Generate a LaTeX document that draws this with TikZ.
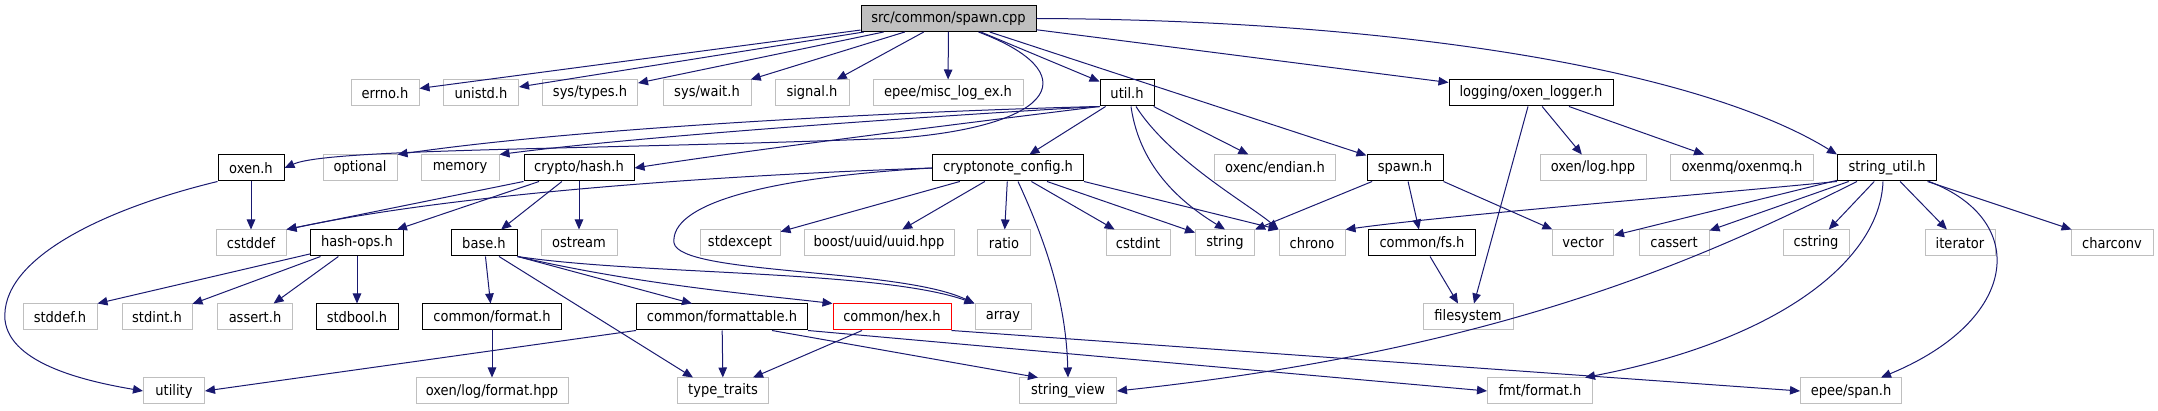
\documentclass[tikz,border=0pt]{standalone}
\usepackage{fontspec}
\setmainfont{DejaVu Sans Condensed}
\usetikzlibrary{arrows.meta}
\definecolor{edgeBlue}{HTML}{191970}
\definecolor{extGrey}{HTML}{BFBFBF}
\definecolor{rootFill}{HTML}{BFBFBF}
\begin{document}
\begin{tikzpicture}[x=1pt,y=-1pt,
  inc/.style={draw=edgeBlue, line width=1pt, -{Triangle[length=10pt,width=8.5pt]}},
  file/.style={draw=black, line width=1pt, minimum height=26pt, inner sep=0pt, font=\fontsize{14.5}{16}\selectfont},
  sys/.style={file, draw=extGrey},
  root/.style={file, fill=rootFill},
  cut/.style={file, draw=red}]
\useasboundingbox (0,0) rectangle (2158,411);
% row 1
\node[root, minimum width=175pt] (spawnCpp) at (948.5,18.5) {src/common/spawn.cpp};
% row 2
\node[sys, minimum width=68pt] (errnoH) at (385,93) {errno.h};
\node[sys, minimum width=75pt] (unistdH) at (481,93) {unistd.h};
\node[sys, minimum width=95pt] (sysTypesH) at (590,93) {sys/types.h};
\node[sys, minimum width=88pt] (sysWaitH) at (707,93) {sys/wait.h};
\node[sys, minimum width=74pt] (signalH) at (812,93) {signal.h};
\node[sys, minimum width=150pt] (miscLogEx) at (948,93) {epee/misc\_log\_ex.h};
\node[file, minimum width=54pt] (utilH) at (1127,93) {util.h};
\node[file, minimum width=164pt] (oxenLogger) at (1531,93) {logging/oxen\_logger.h};
% row 3
\node[file, minimum width=66pt] (oxenH) at (251,168) {oxen.h};
\node[sys, minimum width=74pt] (optional) at (360,168) {optional};
\node[sys, minimum width=78pt] (memory) at (460,168) {memory};
\node[file, minimum width=110pt] (cryptoHash) at (579,168) {crypto/hash.h};
\node[file, minimum width=151pt] (cryptonoteConfig) at (1008,168) {cryptonote\_config.h};
\node[sys, minimum width=121pt] (oxencEndian) at (1275,168) {oxenc/endian.h};
\node[file, minimum width=76pt] (spawnH) at (1405,168) {spawn.h};
\node[sys, minimum width=106pt] (oxenLogHpp) at (1593,168) {oxen/log.hpp};
\node[sys, minimum width=143pt] (oxenmqH) at (1742,168) {oxenmq/oxenmq.h};
\node[file, minimum width=99pt] (stringUtil) at (1887,168) {string\_util.h};
% row 4
\node[sys, minimum width=70pt] (cstddef) at (251,243) {cstddef};
\node[file, minimum width=93pt] (hashOps) at (357,243) {hash-ops.h};
\node[file, minimum width=66pt] (baseH) at (484,243) {base.h};
\node[sys, minimum width=76pt] (ostream) at (579,243) {ostream};
\node[sys, minimum width=80pt] (stdexcept) at (740,243) {stdexcept};
\node[sys, minimum width=150pt] (boostUuid) at (879,243) {boost/uuid/uuid.hpp};
\node[sys, minimum width=53pt] (ratio) at (1004,243) {ratio};
\node[sys, minimum width=64pt] (cstdint) at (1138,243) {cstdint};
\node[sys, minimum width=59pt] (string) at (1225,243) {string};
\node[sys, minimum width=66pt] (chrono) at (1312,243) {chrono};
\node[file, minimum width=107pt] (commonFs) at (1422,243) {common/fs.h};
\node[sys, minimum width=61pt] (vector) at (1583,243) {vector};
\node[sys, minimum width=70pt] (cassert) at (1674,243) {cassert};
\node[sys, minimum width=66pt] (cstring) at (1816,243) {cstring};
\node[sys, minimum width=70pt] (iterator) at (1960,243) {iterator};
\node[sys, minimum width=82pt] (charconv) at (2112,243) {charconv};
% row 5
\node[sys, minimum width=74pt] (stddefH) at (60,317) {stddef.h};
\node[sys, minimum width=70pt] (stdintH) at (157,317) {stdint.h};
\node[sys, minimum width=75pt] (assertH) at (255,317) {assert.h};
\node[file, minimum width=82pt] (stdboolH) at (357,317) {stdbool.h};
\node[file, minimum width=139pt] (commonFormat) at (492,317) {common/format.h};
\node[file, minimum width=171pt] (formattable) at (722,317) {common/formattable.h};
\node[cut, minimum width=118pt] (hexH) at (892,317) {common/hex.h};
\node[sys, minimum width=56pt] (array) at (1003,317) {array};
\node[sys, minimum width=90pt] (filesystem) at (1468,317) {filesystem};
% row 6
\node[sys, minimum width=61pt] (utility) at (174,391) {utility};
\node[sys, minimum width=152pt] (oxenLogFormat) at (492,391) {oxen/log/format.hpp};
\node[sys, minimum width=91pt] (typeTraits) at (723,391) {type\_traits};
\node[sys, minimum width=97pt] (stringView) at (1068,391) {string\_view};
\node[sys, minimum width=105pt] (fmtFormat) at (1540,391) {fmt/format.h};
\node[sys, minimum width=101pt] (epeeSpan) at (1851,391) {epee/span.h};
% spawn.cpp
\draw[inc] (spawnCpp) -- (errnoH);
\draw[inc] (spawnCpp) -- (unistdH);
\draw[inc] (spawnCpp) -- (sysTypesH);
\draw[inc] (spawnCpp) -- (sysWaitH);
\draw[inc] (spawnCpp) -- (signalH);
\draw[inc] (spawnCpp) -- (miscLogEx);
\draw[inc] (spawnCpp) -- (utilH);
\draw[inc] (spawnCpp) -- (spawnH);
\draw[inc] (spawnCpp) -- (oxenLogger);
\draw[inc] (spawnCpp.east) .. controls (1400,20) and (1700,70) .. (stringUtil.north west);
\draw[inc] ([xshift=30pt]spawnCpp.south) .. controls (1085,72) and (1060,125) .. (900,138) .. controls (600,150) and (330,148) .. (oxenH.east);
% util.h
\draw[inc] (utilH.south west) .. controls (950,110) and (600,125) .. (optional.north east);
\draw[inc] (utilH.south west) .. controls (950,115) and (650,135) .. (memory.north east);
\draw[inc] (utilH.south west) .. controls (950,125) and (750,150) .. (cryptoHash.east);
\draw[inc] (utilH) -- (cryptonoteConfig);
\draw[inc] ([xshift=4pt]utilH.south) .. controls (1140,170) and (1185,205) .. (string.north);
\draw[inc] ([xshift=9pt]utilH.south) .. controls (1170,160) and (1250,205) .. (chrono.north west);
\draw[inc] (utilH) -- (oxencEndian);
% logging/oxen_logger.h
\draw[inc] (oxenLogger) -- (oxenLogHpp);
\draw[inc] (oxenLogger) -- (oxenmqH);
\draw[inc] ([xshift=-3pt]oxenLogger.south) -- ([xshift=6pt]filesystem.north);
% oxen.h
\draw[inc] (oxenH) -- (cstddef);
\draw[inc] (oxenH.south west) .. controls (100,210) and (0,260) .. (5,320) .. controls (10,365) and (90,382) .. (utility.west);
% crypto/hash.h
\draw[inc] (cryptoHash.south west) -- (cstddef.north east);
\draw[inc] (cryptoHash) -- (hashOps);
\draw[inc] (cryptoHash) -- (baseH);
\draw[inc] (cryptoHash) -- (ostream);
% cryptonote_config.h
\draw[inc] (cryptonoteConfig.west) .. controls (700,176) and (450,195) .. (cstddef.north east);
\draw[inc] (cryptonoteConfig.west) .. controls (760,178) and (670,205) .. (674,243) .. controls (680,275) and (900,268) .. (array.north west);
\draw[inc] (cryptonoteConfig) -- (stdexcept);
\draw[inc] (cryptonoteConfig) -- (boostUuid);
\draw[inc] (cryptonoteConfig) -- (ratio);
\draw[inc] ([xshift=10pt]cryptonoteConfig.south) .. controls (1045,240) and (1066,300) .. (stringView.north);
\draw[inc] (cryptonoteConfig) -- (cstdint);
\draw[inc] (cryptonoteConfig) -- (string);
\draw[inc] (cryptonoteConfig.south east) -- (chrono.north west);
% spawn.h
\draw[inc] (spawnH) -- (string.north east);
\draw[inc] (spawnH) -- (commonFs);
\draw[inc] (spawnH.south east) -- (vector);
% string_util.h
\draw[inc] (stringUtil.south west) .. controls (1700,195) and (1450,215) .. (chrono.north east);
\draw[inc] (stringUtil) -- (vector);
\draw[inc] (stringUtil) -- (cassert);
\draw[inc] (stringUtil) -- (cstring);
\draw[inc] (stringUtil) -- (iterator);
\draw[inc] (stringUtil) -- (charconv);
\draw[inc] ([xshift=-30pt]stringUtil.south) .. controls (1700,260) and (1500,350) .. (stringView.east);
\draw[inc] ([xshift=-4pt]stringUtil.south) .. controls (1880,260) and (1780,340) .. ([xshift=-8pt]fmtFormat.north east);
\draw[inc] ([xshift=42pt]stringUtil.south) .. controls (2030,220) and (2020,320) .. ([xshift=30pt]epeeSpan.north);
% common/fs.h
\draw[inc] (commonFs) -- ([xshift=-10pt]filesystem.north);
% hash-ops.h
\draw[inc] (hashOps) -- (stddefH.north east);
\draw[inc] (hashOps) -- (stdintH);
\draw[inc] (hashOps) -- (assertH);
\draw[inc] (hashOps) -- (stdboolH);
% base.h
\draw[inc] (baseH) -- (commonFormat);
\draw[inc] ([xshift=15pt]baseH.south) -- ([xshift=-30pt]typeTraits.north);
\draw[inc] (baseH.south east) -- ([xshift=-30pt]formattable.north);
\draw[inc] (baseH.south east) .. controls (640,285) and (760,295) .. (hexH.north west);
\draw[inc] (baseH.south east) .. controls (640,275) and (880,270) .. (array.north west);
% leaves of common/*
\draw[inc] (commonFormat) -- (oxenLogFormat);
\draw[inc] (formattable.south west) -- (utility.east);
\draw[inc] (formattable) -- (typeTraits);
\draw[inc] ([xshift=50pt]formattable.south) -- ([xshift=-30pt]stringView.north);
\draw[inc] (formattable.south east) -- (fmtFormat.west);
\draw[inc] ([xshift=-30pt]hexH.south) -- ([xshift=30pt]typeTraits.north);
\draw[inc] (hexH.south east) -- (epeeSpan.west);
\end{tikzpicture}
\end{document}
